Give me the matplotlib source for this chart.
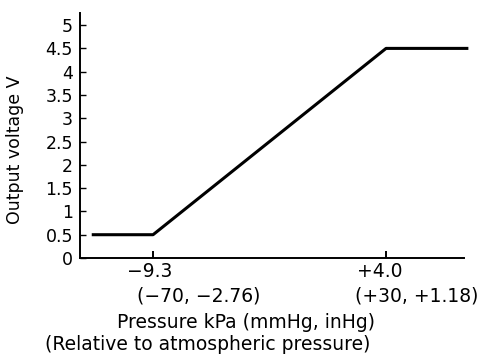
import matplotlib
matplotlib.use('Agg')
import matplotlib.pyplot as plt

# sensor transfer curve (kPa relative to atmosphere -> output V)
pressure = [-12.8, -9.3, 4.0, 8.7]
voltage = [0.5, 0.5, 4.5, 4.5]

xticks = [-9.3, 4.0]
xtick_top = ['\u22129.3', '+4.0']
xtick_sub = ['(\u221270, \u22122.76)', '(+30, +1.18)']
yticks = [0, 0.5, 1, 1.5, 2, 2.5, 3, 3.5, 4, 4.5, 5]
ytick_labels = ['0', '0.5', '1', '1.5', '2', '2.5', '3', '3.5', '4', '4.5', '5']

plt.rcParams['font.family'] = ['DejaVu Sans']
FS = 12.5
FSX = 13.5  # bottom texts are set a bit wider in the original

fig = plt.figure(figsize=(4.96, 3.64), dpi=100)
ax = fig.add_axes([80/496, 1 - 258/364, 384/496, 245/364])

ax.plot(pressure, voltage, color='black', lw=2.2, clip_on=False,
        solid_capstyle='butt')

ax.set_xlim(-13.47, 8.45)
ax.set_ylim(0, 5.26)

for s in ['top', 'right']:
    ax.spines[s].set_visible(False)
for s in ['left', 'bottom']:
    ax.spines[s].set_linewidth(1.4)

ax.set_yticks(yticks)
ax.set_yticklabels(ytick_labels, fontsize=FS)
ax.tick_params(axis='y', direction='in', length=4, width=1, pad=5)
ax.set_xticks(xticks)
ax.set_xticklabels(['', ''])
ax.tick_params(axis='x', direction='in', length=5, width=1.4)

# two line tick labels, second line left aligned under the first
top_dx = [-3, -6]
sub_dx = [-16, -31]
for x, t, s, d1, d2 in zip(xticks, xtick_top, xtick_sub, top_dx, sub_dx):
    ax.annotate(t, xy=(x, 0), xycoords=('data', 'axes fraction'),
                xytext=(d1, -4), textcoords='offset pixels',
                ha='center', va='top', fontsize=FSX)
    ax.annotate(s, xy=(x, 0), xycoords=('data', 'axes fraction'),
                xytext=(d2, -29), textcoords='offset pixels',
                ha='left', va='top', fontsize=FSX)

fig.text(246/496, 1 - 323/364, 'Pressure kPa (mmHg, inHg)',
         ha='center', va='center', fontsize=FSX)
fig.text(208/496, 1 - 345/364, '(Relative to atmospheric pressure)',
         ha='center', va='center', fontsize=FSX)

ax.set_ylabel('Output voltage V', fontsize=FS)
ax.yaxis.set_label_coords(-56/384, (258 - 150)/245)

fig.savefig('out.png', dpi=100)
